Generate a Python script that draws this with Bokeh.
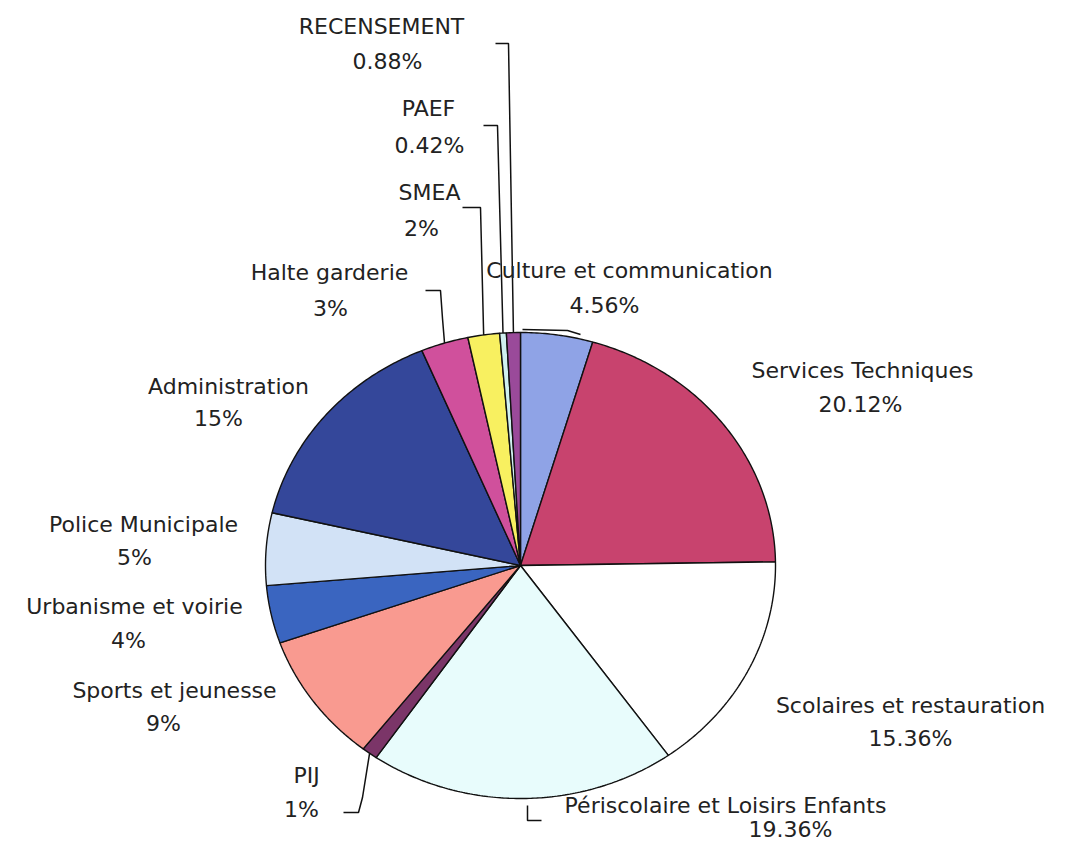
import numpy as np
from bokeh.plotting import figure
from bokeh.models import ColumnDataSource
from bokeh.core.properties import value
from bokeh.embed import file_html
from bokeh.resources import INLINE

# ---------------- data ----------------
categories = ["Culture et communication", "Services Techniques", "Scolaires et restauration",
              "Périscolaire et Loisirs Enfants", "PIJ", "Sports et jeunesse", "Urbanisme et voirie",
              "Police Municipale", "Administration", "Halte garderie", "SMEA", "PAEF", "RECENSEMENT"]
shares = [4.56, 20.12, 15.36, 19.36, 1, 9, 4, 5, 15, 3, 2, 0.42, 0.88]
share_labels = ["4.56%", "20.12%", "15.36%", "19.36%", "1%", "9%", "4%", "5%", "15%",
                "3%", "2%", "0.42%", "0.88%"]
colors = ["#8fa3e6", "#c8436e", "#ffffff", "#e8fcfc", "#7b3568", "#f99a90", "#3a65c0",
          "#d2e2f6", "#34479a", "#d0509c", "#f8f060", "#d0f0f0", "#9a4a9a"]

# ---------------- layout (page pixels) ----------------
W, H = 1066, 845
OFF = 0
CX, CY, RX, RY = 520.0, 565.0, 255.0, 233.0   # pie centre and radii in page px


def dx(X):
    return (X - CX) / RX


def dy(Y):
    return (CY - Y) / RY


label_pos = {
    "Culture et communication": ((629, 270), (604, 305)),
    "Services Techniques": ((862, 370), (860, 404)),
    "Scolaires et restauration": ((910, 705), (910, 738)),
    "Périscolaire et Loisirs Enfants": ((725, 805), (790, 829)),
    "PIJ": ((306, 775), (301, 809)),
    "Sports et jeunesse": ((174, 690), (163, 723)),
    "Urbanisme et voirie": ((134, 606), (128, 640)),
    "Police Municipale": ((143, 524), (134, 557)),
    "Administration": ((228, 386), (218, 418)),
    "Halte garderie": ((329, 272), (330, 308)),
    "SMEA": ((429, 192), (421, 228)),
    "PAEF": ((428, 108), (429, 145)),
    "RECENSEMENT": ((381, 26), (387, 61)),
}

# leader elbows (page px); "pie" marks the slice's mid-angle rim point
leaders = {
    "RECENSEMENT": [(495, 43), (508, 43), "pie"],
    "PAEF": [(483, 125), (497, 125), "pie"],
    "SMEA": [(462, 207), (480, 207), "pie"],
    "Halte garderie": [(425, 290), (440, 290), (442, 318), "pie"],
    "Culture et communication": [(522, 329), (567, 330), (580, 334)],
    "PIJ": ["pie", (362, 797), (358, 812), (343, 812)],
    "Périscolaire et Loisirs Enfants": [(527, 805), (527, 820), (541, 820)],
}

p = figure(width=W, height=H, output_backend="svg", toolbar_location=None,
           x_range=(dx(OFF), dx(OFF + W)), y_range=(dy(OFF + H), dy(OFF)),
           min_border=0, outline_line_color=None)
p.axis.visible = False
p.xgrid.visible = False
p.ygrid.visible = False
p.background_fill_color = "white"
p.border_fill_color = "white"

total = float(sum(shares))
cum = np.concatenate([[0.0], np.cumsum(shares)]) / total
# clockwise from 12 o'clock
start = np.pi / 2 - 2 * np.pi * cum[:-1]
end = np.pi / 2 - 2 * np.pi * cum[1:]
mid = (start + end) / 2

xs, ys = [], []
for a0, a1 in zip(start, end):
    n = max(4, int(abs(a1 - a0) / 0.01))
    t = np.linspace(a0, a1, n)
    xs.append([0.0] + list(np.cos(t)) + [0.0])
    ys.append([0.0] + list(np.sin(t)) + [0.0])

src = ColumnDataSource(dict(xs=xs, ys=ys, color=colors, cat=categories))
p.patches("xs", "ys", source=src, fill_color="color", line_color="#111111", line_width=1.4)

# leaders
lx, ly = [], []
for i, c in enumerate(categories):
    if c not in leaders:
        continue
    px_, py_ = [], []
    for pt in leaders[c]:
        if pt == "pie":
            px_.append(float(np.cos(mid[i])))
            py_.append(float(np.sin(mid[i])))
        else:
            px_.append(dx(pt[0]))
            py_.append(dy(pt[1]))
    lx.append(px_)
    ly.append(py_)
p.multi_line(lx, ly, line_color="#111111", line_width=1.5)

# labels
tx, ty, tt = [], [], []
for c, s in zip(categories, share_labels):
    (n1, n2) = label_pos[c]
    tx += [dx(n1[0]), dx(n2[0])]
    ty += [dy(n1[1]), dy(n2[1])]
    tt += [c, s]
p.text(tx, ty, text=tt, text_align="center", text_baseline="middle",
       text_font=value("DejaVu Sans"), text_font_size="22px", text_color="#222222")

open("out.html", "w").write(file_html(p, INLINE))
